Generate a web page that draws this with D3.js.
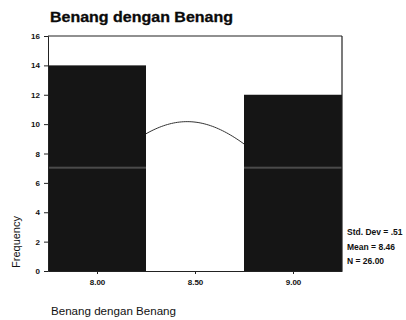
<!DOCTYPE html>
<html><head><meta charset="utf-8">
<script src="https://cdn.jsdelivr.net/npm/d3@7"></script>
<style>body{margin:0;background:#fff}svg{display:block}text{font-family:"Liberation Sans",Arial,sans-serif}</style>
</head><body>
<svg id="c" width="406" height="320"></svg>
<script>
const categories = [8.00, 8.50, 9.00];
const frequencies = [14, 0, 12];
const yTicks = [0, 2, 4, 6, 8, 10, 12, 14, 16];
const xTickLabels = ["8.00", "8.50", "9.00"];
const stats = {sd: 0.51, mean: 8.46, n: 26};
const statLabels = ["Std. Dev = .51", "Mean = 8.46", "N = 26.00"];

const svg = d3.select("#c");
const x = d3.scaleLinear().domain([7.75, 9.25]).range([48, 342]);
const y = d3.scaleLinear().domain([0, 16]).range([271, 36]);
const binW = 0.5;

svg.append("text").attr("x", 50).attr("y", 22).attr("font-size", 14).attr("font-weight", "bold")
  .attr("fill", "#0a0a0a").attr("stroke", "#0a0a0a").attr("stroke-width", 0.3)
  .attr("textLength", 183).attr("lengthAdjust", "spacingAndGlyphs").text("Benang dengan Benang");

// normal curve from stated mean/sd/N
const pdf = v => stats.n * binW / (stats.sd * Math.sqrt(2 * Math.PI)) * Math.exp(-0.5 * ((v - stats.mean) / stats.sd) ** 2);
const xs = d3.range(7.75, 9.2501, 0.01);
svg.append("path").attr("d", d3.line().x(v => x(v)).y(v => y(pdf(v)))(xs))
  .attr("fill", "none").attr("stroke", "#333").attr("stroke-width", 1);

// bars
svg.selectAll("rect.bar").data(categories).join("rect").attr("class", "bar")
  .attr("x", d => x(d - binW / 2)).attr("width", d => x(d + binW / 2) - x(d - binW / 2))
  .attr("y", (d, i) => y(frequencies[i])).attr("height", (d, i) => y(0) - y(frequencies[i]))
  .attr("fill", "#151515");
// faint scan streak across the bars
svg.selectAll("rect.streak").data(categories.filter((d, i) => frequencies[i] > 7)).join("rect").attr("class", "streak")
  .attr("x", d => x(d - binW / 2)).attr("width", d => x(d + binW / 2) - x(d - binW / 2))
  .attr("y", y(7) - 1.5).attr("height", 2).attr("fill", "#4a4a4a");

// frame
svg.append("line").attr("x1", x(7.75)).attr("x2", x(9.25)).attr("y1", y(16)).attr("y2", y(16)).attr("stroke", "#222").attr("stroke-width", 1.2);
svg.append("line").attr("x1", x(9.25)).attr("x2", x(9.25)).attr("y1", y(16)).attr("y2", y(0)).attr("stroke", "#222").attr("stroke-width", 1.2);

// axes
const ya = d3.axisLeft(y).tickValues(yTicks).tickSize(4).tickPadding(4).tickFormat(d3.format("d"));
const gy = svg.append("g").attr("transform", `translate(${x(7.75)},0)`).call(ya);
gy.selectAll("text").attr("font-size", 8).attr("font-weight", "bold").attr("fill", "#111");
gy.selectAll("line,path").attr("stroke", "#222");

const xa = d3.axisBottom(x).tickValues(categories).tickSize(3).tickPadding(5).tickFormat((d, i) => xTickLabels[i]).tickSizeOuter(0);
const gx = svg.append("g").attr("transform", `translate(0,${y(0)})`).call(xa);
gx.selectAll("text").attr("font-size", 8).attr("font-weight", "bold").attr("fill", "#111");
gx.selectAll("line,path").attr("stroke", "#222");

svg.append("text").attr("transform", "translate(20,242) rotate(-90)").attr("text-anchor", "middle")
  .attr("font-size", 11).attr("fill", "#111").text("Frequency");
svg.append("text").attr("x", 51).attr("y", 315).attr("font-size", 10).attr("fill", "#111")
  .attr("textLength", 125).attr("lengthAdjust", "spacingAndGlyphs").text("Benang dengan Benang");

svg.selectAll("text.stat").data(statLabels).join("text").attr("class", "stat")
  .attr("x", 347).attr("y", (d, i) => 235 + i * 14.5).attr("font-size", 8.5).attr("font-weight", "bold")
  .attr("fill", "#111").text(d => d);
</script>
</body></html>
